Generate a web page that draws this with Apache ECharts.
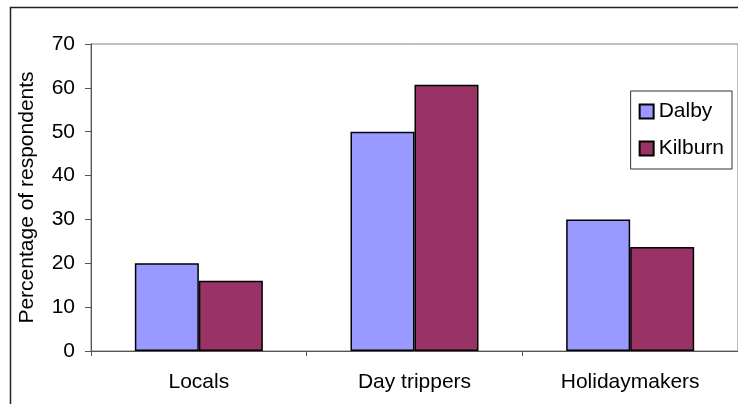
<!DOCTYPE html>
<html><head><meta charset="utf-8">
<script src="https://cdn.jsdelivr.net/npm/echarts@6/dist/echarts.min.js"></script>
<style>html,body{margin:0;padding:0;background:#fff}#c{width:738px;height:404px}</style>
</head><body><div id="c"></div>
<script>
const categories = ['Locals', 'Day trippers', 'Holidaymakers'];
const dalby = [20, 50, 30];
const kilburn = [16, 60.7, 23.7];
const seriesNames = ['Dalby', 'Kilburn'];

const chart = echarts.init(document.getElementById('c'), null, {renderer: 'canvas'});
const font = 'Liberation Sans, Arial, sans-serif';
chart.setOption({
  animation: false,
  backgroundColor: '#fff',
  graphic: [{
    type: 'rect', left: 8, top: 5, shape: {width: 740, height: 420},
    style: {fill: 'none', stroke: '#222', lineWidth: 1.5}, silent: true
  }],
  grid: {left: 91, top: 44, right: -10, bottom: 53, show: true, borderColor: '#808080', borderWidth: 1, backgroundColor: 'transparent'},
  legend: {
    right: 6, top: 91, orient: 'vertical', itemWidth: 14, itemHeight: 14, itemGap: 16,
    padding: [10, 8, 10, 8], borderColor: '#333', borderWidth: 1, backgroundColor: '#fff',
    textStyle: {fontFamily: font, fontSize: 21, color: '#000'},
    icon: 'rect',
    data: seriesNames
  },
  xAxis: {
    type: 'category', data: categories, boundaryGap: true,
    axisLine: {lineStyle: {color: '#555', width: 1}},
    axisTick: {show: true, length: 5, lineStyle: {color: '#555'}},
    axisLabel: {fontFamily: font, fontSize: 21, color: '#000', margin: 21}
  },
  yAxis: {
    type: 'value', min: 0, max: 70, interval: 10,
    name: 'Percentage of respondents', nameLocation: 'middle', nameGap: 53, nameRotate: 90,
    nameTextStyle: {fontFamily: font, fontSize: 21, color: '#000'},
    axisLine: {show: true, lineStyle: {color: '#555', width: 1}},
    axisTick: {show: true, length: 6, inside: false, lineStyle: {color: '#555'}},
    splitLine: {show: false},
    axisLabel: {fontFamily: font, fontSize: 21, color: '#000', margin: 16}
  },
  series: [
    {name: seriesNames[0], type: 'bar', data: dalby, barWidth: 64, barGap: '0%',
     itemStyle: {color: '#9999FF', borderColor: '#000', borderWidth: 1.5}},
    {name: seriesNames[1], type: 'bar', data: kilburn, barWidth: 64, barGap: '0%',
     itemStyle: {color: '#993366', borderColor: '#000', borderWidth: 1.5}}
  ]
});
</script></body></html>
